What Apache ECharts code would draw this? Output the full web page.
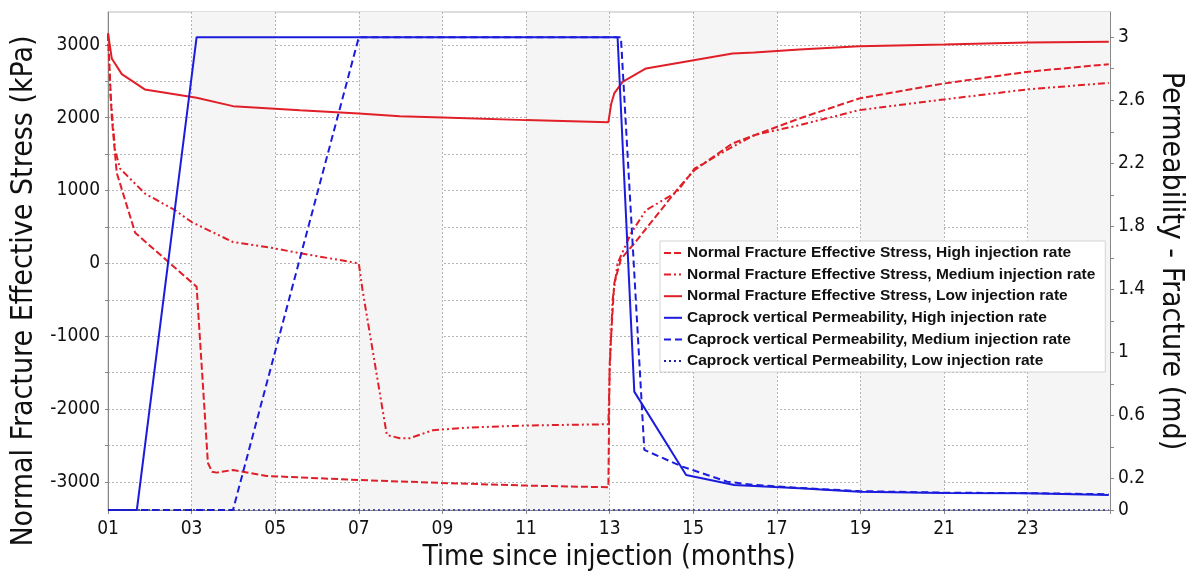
<!DOCTYPE html>
<html lang='en'>
<head>
  <meta charset='UTF-8'>
  <title>Fracture stress and caprock permeability</title>
  <script src="https://cdn.jsdelivr.net/npm/echarts@6/dist/echarts.min.js"></script>
  <style>
    html, body { margin: 0; padding: 0; background: #fff; }
  </style>
</head>
<body>
<div id="main" style="width: 1195px; height:580px;"></div>
<script>
  // tick values
  const monthLabels = [1, 3, 5, 7, 9, 11, 13, 15, 17, 19, 21, 23]
  const monthTicks = [1, 3, 5, 7, 9, 11, 13, 15, 17, 19, 21, 23, 24.97]
  const stressTicks = [-3000, -2500, -2000, -1500, -1000, -500, 0, 500, 1000, 1500, 2000, 2500, 3000]
  const stressLabels = [-3000, -2000, -1000, 0, 1000, 2000, 3000]
  const permTicks = [0, 0.2, 0.4, 0.6, 0.8, 1, 1.2, 1.4, 1.6, 1.8, 2, 2.2, 2.4, 2.6, 2.8, 3]
  const permLabels = [0, 0.2, 0.6, 1, 1.4, 1.8, 2.2, 2.6, 3]

  // [month, kPa]
  const stressHigh = [[1, 3150], [1.09, 2000], [1.21, 1240], [1.65, 420], [3.12, -320], [3.39, -2740], [3.49, -2860],
    [3.6, -2872], [3.99, -2835], [4.79, -2918], [7.0, -2973], [9.0, -3014], [11.0, -3050], [12.97, -3073],
    [13.0, -1400], [13.04, -957], [13.11, -275], [13.27, 60], [13.59, 274], [14.67, 1050], [15.03, 1280],
    [15.94, 1646], [17.54, 1989], [18.97, 2263], [21.0, 2469], [22.98, 2628], [24.94, 2734]]
  const stressMedium = [[1, 3150], [1.06, 2300], [1.17, 1555], [1.29, 1300], [1.88, 960], [2.6, 730], [3.0, 567],
    [3.99, 293], [4.94, 210], [5.59, 140], [7.0, 0], [7.09, -370], [7.67, -2355], [7.98, -2400], [8.22, -2400],
    [8.77, -2290], [9.58, -2255], [11.0, -2225], [12.97, -2208], [13.0, -1509], [13.07, -503], [13.19, 0],
    [13.51, 411], [13.87, 731], [14.6, 975], [15.03, 1300], [15.94, 1600], [16.46, 1760], [17.54, 1897],
    [18.97, 2103], [21.0, 2250], [22.98, 2387], [24.94, 2477]]
  const stressLow = [[1, 3160], [1.09, 2812], [1.33, 2597], [1.88, 2387], [3.12, 2272], [3.99, 2158], [5.59, 2103],
    [7.0, 2057], [7.98, 2020], [9.0, 2003], [11.0, 1966], [12.97, 1938], [13.04, 2195], [13.11, 2332],
    [13.31, 2491], [13.87, 2675], [15.94, 2880], [16.46, 2894], [17.54, 2935], [18.97, 2980], [21.0, 3004],
    [22.98, 3030], [24.94, 3040]]

  // [month, md]
  const permHigh = [[1, 0], [1.69, 0], [3.12, 3], [13.19, 3], [13.59, 0.751], [14.83, 0.222], [15.98, 0.159],
    [17.54, 0.138], [18.97, 0.116], [21.0, 0.108], [22.98, 0.106], [24.94, 0.095]]
  const permMedium = [[1, 0], [3.99, 0], [7.0, 3], [13.27, 3], [13.83, 0.381], [14.74, 0.275], [15.81, 0.18],
    [16.46, 0.159], [17.54, 0.14], [18.97, 0.12], [21.0, 0.11], [22.98, 0.107], [24.94, 0.1]]
  const permLow = [[1, 0], [24.94, 0]]

  const names = [
    'Normal Fracture Effective Stress, High injection rate',
    'Normal Fracture Effective Stress, Medium injection rate',
    'Normal Fracture Effective Stress, Low injection rate',
    'Caprock vertical Permeability, High injection rate',
    'Caprock vertical Permeability, Medium injection rate',
    'Caprock vertical Permeability, Low injection rate'
  ]

  const RED = '#e01f28'
  const BLUE = '#1c1cdc'
  const NAVY = '#20209a'
  const axisFont = "'DejaVu Sans Condensed', 'Liberation Sans Narrow', 'DejaVu Sans', sans-serif"

  function line(name, data, color, type, yIndex, width) {
    return {
      name, type: 'line', data, yAxisIndex: yIndex,
      symbol: 'none', showSymbol: false,
      lineStyle: { color, width: width || 2, type },
      itemStyle: { color },
      emphasis: { disabled: true }
    }
  }

  var myChart = echarts.init(document.getElementById('main'));
  var option = {
    animation: false,
    grid: {
      left: 108, right: 85, top: 12, bottom: 70,
      show: true, borderColor: '#bbb', borderWidth: 1
    },
    legend: {
      orient: 'vertical',
      left: 660, top: 241,
      backgroundColor: '#fff',
      borderColor: '#d4d4d4', borderWidth: 1,
      padding: [4, 10, 3, 3],
      itemGap: 5.6,
      itemWidth: 18, itemHeight: 12,
      itemStyle: { opacity: 0, borderWidth: 0 },
      textStyle: { fontFamily: "'Liberation Sans', Arial, sans-serif", fontWeight: 'bold', fontSize: 15.5, color: '#111' },
      data: names
    },
    xAxis: {
      type: 'value', min: 1, max: 24.97,
      name: 'Time since injection (months)',
      nameLocation: 'middle', nameGap: 31,
      nameTextStyle: { fontFamily: axisFont, fontSize: 28, color: '#111' },
      axisLine: { onZero: false, lineStyle: { color: '#888' } },
      axisTick: { customValues: monthTicks, length: 4, lineStyle: { color: '#888' } },
      axisLabel: {
        customValues: monthLabels, margin: 10,
        fontFamily: axisFont, fontSize: 19, color: '#111',
        formatter: v => (v < 10 ? '0' : '') + v
      },
      splitLine: { show: true, lineStyle: { color: '#b4b4b4', type: [2, 2] } },
      splitArea: { show: true, areaStyle: { color: ['rgba(255,255,255,0)', '#f5f5f5'] } }
    },
    yAxis: [
      {
        type: 'value', min: -3385, max: 3450,
        name: 'Normal Fracture Effective Stress (kPa)',
        nameLocation: 'middle', nameGap: 62,
        nameTextStyle: { fontFamily: axisFont, fontSize: 30, color: '#111', padding: [0, 60, 0, 0] },
        axisLine: { show: true, onZero: false, lineStyle: { color: '#888' } },
        axisTick: { show: true, customValues: stressTicks, length: 3, lineStyle: { color: '#888' } },
        axisLabel: {
          customValues: stressLabels, margin: 8, fontFamily: axisFont, fontSize: 19, color: '#111',
          formatter: v => String(v)
        },
        splitLine: { show: true, lineStyle: { color: '#b4b4b4', type: [2, 2] } }
      },
      {
        type: 'value', min: 0, max: 3.16,
        position: 'right',
        name: 'Permeability - Fracture (md)',
        nameLocation: 'middle', nameGap: 38, nameRotate: -90,
        nameTextStyle: { fontFamily: axisFont, fontSize: 30, color: '#111' },
        axisLine: { show: true, onZero: false, lineStyle: { color: '#888' } },
        axisTick: { show: true, customValues: permTicks, length: 4, lineStyle: { color: '#888' } },
        axisLabel: {
          customValues: permLabels, margin: 8, fontFamily: axisFont, fontSize: 19, color: '#111',
          formatter: v => String(v)
        },
        splitLine: { show: false }
      }
    ],
    graphic: [{
      type: 'text', right: 92, top: 478, silent: true,
      style: { text: 'CMG', fill: 'rgba(190,190,190,0.55)', font: 'bold 17px sans-serif' }
    }],
    series: [
      line(names[0], stressHigh, RED, [7, 3], 0),
      line(names[1], stressMedium, RED, [7, 3, 2, 3, 2, 3], 0),
      line(names[2], stressLow, RED, 'solid', 0),
      line(names[3], permHigh, BLUE, 'solid', 1),
      line(names[4], permMedium, BLUE, [7, 4], 1),
      line(names[5], permLow, NAVY, [2, 3], 1, 1.5)
    ]
  };
  myChart.setOption(option);
</script>
</body>
</html>
